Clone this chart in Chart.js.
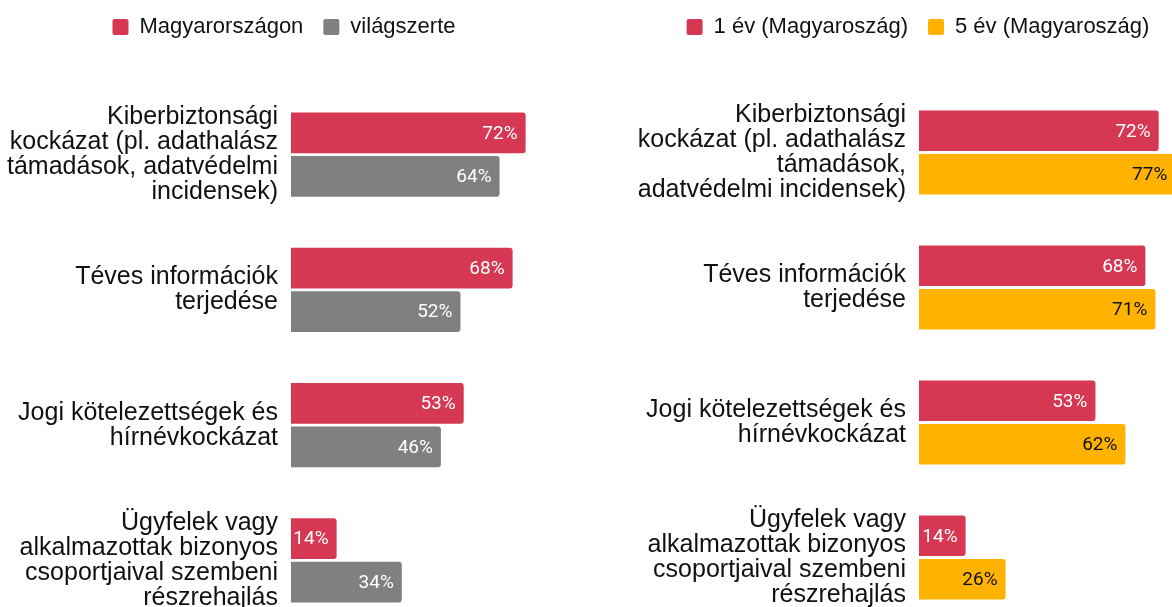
<!DOCTYPE html>
<html lang="hu">
<head>
<meta charset="utf-8">
<title>Kockázatok</title>
<script src="https://cdn.jsdelivr.net/npm/chart.js@4.4.1/dist/chart.umd.min.js"></script>
<style>
    html, body { margin: 0; padding: 0; background: #fff; overflow: hidden; width: 1172px; height: 607px; }
    canvas { position: absolute; top: 0; }
    #leftChart { left: 0; }
    #rightChart { left: 634px; }
</style>
</head>
<body>
<canvas id="leftChart" width="568" height="628"></canvas>
<canvas id="rightChart" width="568" height="625"></canvas>
<script>
// Category labels (multi-line, as wrapped in the picture)
const leftCategories = [
    ['Kiberbiztonsági', 'kockázat (pl. adathalász', 'támadások, adatvédelmi', 'incidensek)'],
    ['Téves információk', 'terjedése'],
    ['Jogi kötelezettségek és', 'hírnévkockázat'],
    ['Ügyfelek vagy', 'alkalmazottak bizonyos', 'csoportjaival szembeni', 'részrehajlás']
];
const rightCategories = [
    ['Kiberbiztonsági', 'kockázat (pl. adathalász', 'támadások,', 'adatvédelmi incidensek)'],
    ['Téves információk', 'terjedése'],
    ['Jogi kötelezettségek és', 'hírnévkockázat'],
    ['Ügyfelek vagy', 'alkalmazottak bizonyos', 'csoportjaival szembeni', 'részrehajlás']
];

// Series values (%)
const hungaryValues = [72, 68, 53, 14];
const worldValues = [64, 52, 46, 34];
const oneYearValues = [72, 68, 53, 14];
const fiveYearValues = [77, 71, 62, 26];

const RED = '#d63853';
const GRAY = '#808080';
const YELLOW = '#ffb300';
const TEXT = '#111111';

// Percentage labels drawn inside the end of each bar
const valueLabels = {
    id: 'valueLabels',
    afterDatasetsDraw(chart) {
        const ctx = chart.ctx;
        chart.data.datasets.forEach((ds, i) => {
            chart.getDatasetMeta(i).data.forEach((bar, j) => {
                ctx.save();
                ctx.font = '19px Roboto';
                ctx.fillStyle = ds.labelColor;
                ctx.textAlign = 'right';
                ctx.textBaseline = 'middle';
                ctx.fillText(ds.data[j] + '%', bar.x - 8, bar.y + 1);
                ctx.restore();
            });
        });
    }
};

// Make room below the legend
function legendSpacer(height) {
    return {
        id: 'legendSpacer',
        beforeInit(chart) {
            const origFit = chart.legend.fit;
            chart.legend.fit = function fit() {
                origFit.bind(chart.legend)();
                this.height = height;
            };
        }
    };
}

function makeChart(canvasId, categories, series, axisWidth, legendHeight) {
    const ctx = document.getElementById(canvasId).getContext('2d');
    return new Chart(ctx, {
        type: 'bar',
        data: {
            labels: categories,
            datasets: series.map(s => ({
                label: s.label,
                data: s.data,
                backgroundColor: s.color,
                labelColor: s.labelColor,
                borderRadius: 3,
                borderSkipped: 'start',
                categoryPercentage: 0.642,
                barPercentage: 0.935
            }))
        },
        options: {
            indexAxis: 'y',
            responsive: false,
            devicePixelRatio: 1,
            animation: false,
            layout: { padding: { top: -4, left: 0, right: 0, bottom: 0 } },
            scales: {
                x: { min: 0, max: 85, display: false },
                y: {
                    grid: { display: false, drawTicks: false },
                    border: { display: false },
                    ticks: {
                        color: TEXT,
                        padding: 13,
                        font: { family: 'Liberation Sans, Arial, sans-serif', size: 25, lineHeight: 1.0 }
                    },
                    afterFit(scale) {
                        scale.width = axisWidth;
                        // labels may run off the canvas, as in the picture
                        scale.paddingTop = 0;
                        scale.paddingBottom = 0;
                    }
                }
            },
            plugins: {
                legend: {
                    position: 'top',
                    labels: {
                        boxWidth: 16,
                        boxHeight: 16,
                        padding: 20,
                        color: TEXT,
                        useBorderRadius: true,
                        borderRadius: 2,
                        font: { family: 'Liberation Sans, Arial, sans-serif', size: 22 }
                    }
                },
                tooltip: { enabled: false }
            }
        },
        plugins: [valueLabels, legendSpacer(legendHeight)]
    });
}

document.addEventListener('DOMContentLoaded', function() {
    makeChart('leftChart', leftCategories, [
        { label: 'Magyarországon', data: hungaryValues, color: RED, labelColor: '#ffffff' },
        { label: 'világszerte', data: worldValues, color: GRAY, labelColor: '#ffffff' }
    ], 291, 91);

    makeChart('rightChart', rightCategories, [
        { label: '1 év (Magyaroszág)', data: oneYearValues, color: RED, labelColor: '#ffffff' },
        { label: '5 év (Magyaroszág)', data: fiveYearValues, color: YELLOW, labelColor: '#111111' }
    ], 285, 89);
});
</script>
</body>
</html>
